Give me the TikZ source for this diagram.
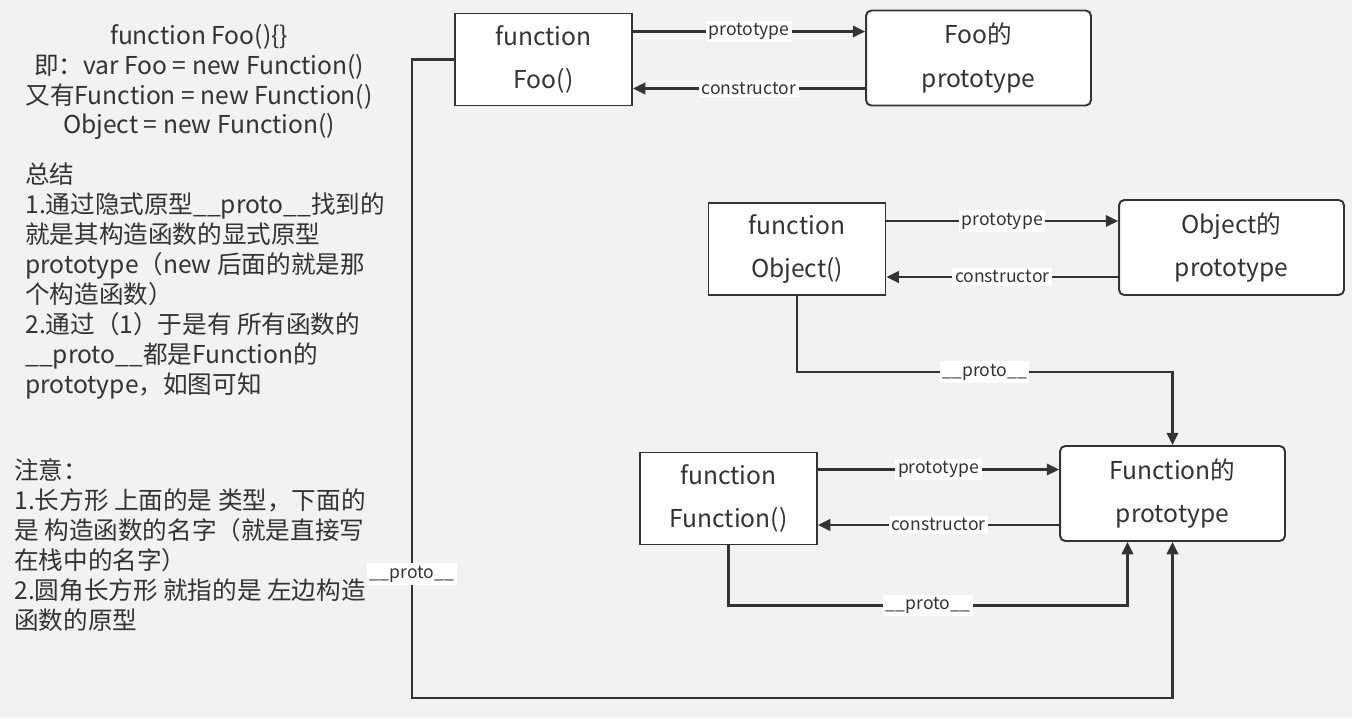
\documentclass[tikz,border=0pt]{standalone}
\usepackage{fontspec}
\setmainfont{Noto Sans CJK SC}
\usetikzlibrary{arrows.meta,calc}
\definecolor{bg}{HTML}{F2F2F2}
\definecolor{ink}{HTML}{333333}

\begin{document}
\begin{tikzpicture}[x=0.02cm,y=-0.02cm,
  typebox/.style={draw=ink,line width=1.1pt,fill=white,text=ink,
    minimum width=3.54cm,minimum height=1.84cm,inner sep=0pt,
    align=center,font=\fontsize{14}{24.5}\selectfont},
  protobox/.style={typebox,rounded corners=3pt,
    minimum width=4.5cm,minimum height=1.9cm},
  lbl/.style={fill=white,inner sep=1.5pt,text=ink,
    font=\fontsize{10}{11}\selectfont},
  link/.style={draw=ink,line width=1.3pt,
    -{Triangle[length=7pt,width=6.5pt]}},
  note/.style={align=left,text=ink,inner sep=0pt,font=\fontsize{14}{17}\selectfont}]
  \fill[bg] (0,0) rectangle (1352,718);

  %% notes on the left
  \node (head) at (199,82) [note,align=center]
    {function Foo()\{\}\\即：var Foo = new Function()\\又有Function = new Function()\\Object = new Function()};
  \node (sum) at (25,281) [note,anchor=west]
    {总结\\1.通过隐式原型\_\_proto\_\_找到的\\就是其构造函数的显式原型\\prototype（new 后面的就是那\\个构造函数）\\2.通过（1）于是有 所有函数的\\\_\_proto\_\_都是Function的\\prototype，如图可知};
  \node (warn) at (14,545) [note,anchor=west]
    {注意：\\1.长方形 上面的是 类型，下面的\\是 构造函数的名字（就是直接写\\在栈中的名字）\\2.圆角长方形 就指的是 左边构造\\函数的原型};

  %% boxes
  \node (foo) at (543.5,59.5) [typebox] {function\\Foo()};
  \node (fooproto) at (978.5,58) [protobox] {Foo的\\prototype};
  \node (obj) at (797,249) [typebox] {function\\Object()};
  \node (objproto) at (1231.5,247.5) [protobox] {Object的\\prototype};
  \node (fn) at (728.5,498.5) [typebox] {function\\Function()};
  \node (fnproto) at (1172.5,493.5) [protobox] {Function的\\prototype};

  %% Foo
  \draw[link] ($(foo.north east)+(0,19)$) coordinate (a1) -- node[lbl] {prototype} (a1 -| fooproto.west);
  \draw[link] ($(fooproto.south west)+(0,-18)$) coordinate (a2) -- node[lbl] {constructor} (a2 -| foo.east);

  %% Object
  \draw[link] ($(obj.north east)+(0,19)$) coordinate (b1) -- node[lbl] {prototype} (b1 -| objproto.west);
  \draw[link] ($(objproto.south west)+(0,-19)$) coordinate (b2) -- node[lbl] {constructor} (b2 -| obj.east);
  \draw[link] (obj.south) -- ++(0,76) -| node[lbl,pos=.25] {\_\_proto\_\_} (fnproto.north);

  %% Function
  \draw[link] ($(fn.north east)+(0,18)$) coordinate (c1) -- node[lbl] {prototype} (c1 -| fnproto.west);
  \draw[link] ($(fnproto.south west)+(0,-17)$) coordinate (c2) -- node[lbl] {constructor} (c2 -| fn.east);
  \draw[link] (fn.south) -- ++(0,60) -| node[lbl,pos=.25] {\_\_proto\_\_} ($(fnproto.south)+(-45,0)$);

  %% Foo __proto__
  \draw[link] (foo.west) -- ++(-42,0) |- node[lbl,pos=.403] {\_\_proto\_\_} ($(fnproto.south)+(0,156)$) -- (fnproto.south);
\end{tikzpicture}
\end{document}
